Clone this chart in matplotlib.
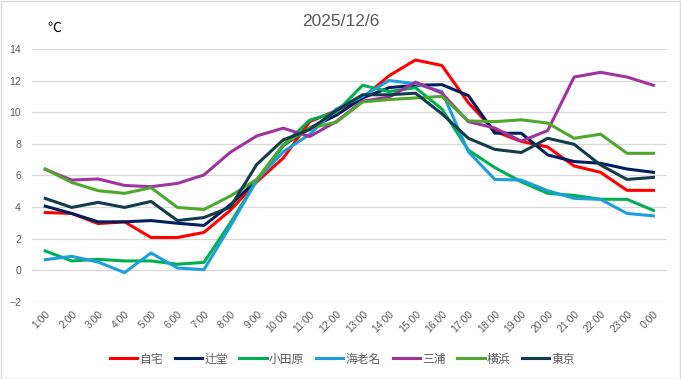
import matplotlib
matplotlib.use('Agg')
import matplotlib.pyplot as plt
import numpy as np

plt.rcParams['font.family'] = ['Liberation Sans', 'Noto Sans CJK JP', 'DejaVu Sans']

hours = ['1:00', '2:00', '3:00', '4:00', '5:00', '6:00', '7:00', '8:00',
         '9:00', '10:00', '11:00', '12:00', '13:00', '14:00', '15:00', '16:00',
         '17:00', '18:00', '19:00', '20:00', '21:00', '22:00', '23:00', '0:00']

jitaku = [3.66, 3.6, 2.96, 3.07, 2.08, 2.08, 2.4, 3.8, 5.6, 7.1, 9.4, 10.1,
          10.9, 12.3, 13.3, 12.95, 10.6, 8.8, 8.15, 7.8, 6.6, 6.2, 5.06, 5.06]
tsujido = [4.06, 3.6, 3.07, 3.07, 3.15, 2.98, 2.84, 4.15, 5.7, 7.9, 9.0, 9.8,
           10.9, 11.55, 11.7, 11.74, 11.05, 8.67, 8.67, 7.3, 6.88, 6.77, 6.41, 6.2]
odawara = [1.23, 0.6, 0.7, 0.6, 0.6, 0.39, 0.51, 3.0, 5.7, 7.9, 9.5, 10.0,
           11.7, 11.3, 11.55, 10.2, 7.6, 6.5, 5.6, 4.87, 4.74, 4.5, 4.49, 3.79]
ebina = [0.68, 0.89, 0.53, -0.14, 1.1, 0.15, 0.05, 2.8, 5.7, 7.5, 8.6, 10.2,
         11.0, 12.0, 11.8, 11.3, 7.5, 5.75, 5.71, 5.04, 4.55, 4.49, 3.6, 3.45]
miura = [6.39, 5.71, 5.78, 5.37, 5.29, 5.5, 6.03, 7.47, 8.5, 8.99, 8.46, 9.4,
         10.7, 10.95, 11.9, 11.2, 9.4, 9.0, 8.17, 8.84, 12.22, 12.52, 12.22, 11.7]
yokohama = [6.41, 5.56, 5.04, 4.87, 5.23, 3.98, 3.85, 4.7, 5.75, 7.95, 9.0, 9.35,
            10.65, 10.8, 10.9, 11.0, 9.45, 9.4, 9.52, 9.31, 8.35, 8.61, 7.4, 7.4]
tokyo = [4.55, 3.98, 4.3, 3.98, 4.36, 3.15, 3.34, 4.0, 6.7, 8.25, 8.9, 10.1,
         11.1, 11.1, 11.2, 9.9, 8.35, 7.65, 7.45, 8.35, 7.97, 6.66, 5.75, 5.88]

series = [
    ('自宅', jitaku, '#FF0000'),
    ('辻堂', tsujido, '#002060'),
    ('小田原', odawara, '#00B050'),
    ('海老名', ebina, '#1E9FDB'),
    ('三浦', miura, '#A0339E'),
    ('横浜', yokohama, '#4EA72E'),
    ('東京', tokyo, '#123B4C'),
]

fig = plt.figure(figsize=(6.81, 3.79), dpi=100)
ax = fig.add_axes([0.047, 0.203, 0.932, 0.668])

x = np.arange(len(hours))
for name, vals, color in series:
    ax.plot(x, vals, color=color, lw=2.2, label=name, solid_joinstyle='round')

ax.set_xlim(-0.5, len(hours) - 0.5)
ax.set_ylim(-2, 14)
ax.set_yticks(np.arange(-2, 15, 2))
ax.set_xticks(x, labels=hours)
ax.grid(axis='y', color='#D9D9D9', lw=0.9)
ax.set_axisbelow(True)
for s in ax.spines.values():
    s.set_visible(False)
ax.tick_params(axis='both', length=0, colors='#595959', labelsize=7.5)
ax.tick_params(axis='y', pad=8)
ax.tick_params(axis='x', pad=5)
plt.setp(ax.get_xticklabels(), rotation=45, ha='right', rotation_mode='anchor')

fig.text(0.5, 1 - 22 / 379, '2025/12/6', ha='center', va='center',
         fontsize=12.5, color='#595959')
fig.text(54 / 681, 1 - 28 / 379, '℃', ha='center', va='center',
         fontsize=10, color='black', family=['Noto Sans CJK JP', 'DejaVu Sans'])

fig.legend(loc='center', bbox_to_anchor=(0.503, 1 - 359 / 379), ncol=7,
           frameon=False, handlelength=2.3, handletextpad=0.2,
           columnspacing=1.0, labelcolor='#595959',
           prop={'family': ['Noto Sans CJK JP', 'DejaVu Sans'], 'size': 8.5})

fig.patches.append(plt.Rectangle((0.001, 0.001), 0.997, 0.997, transform=fig.transFigure,
                                 fill=False, edgecolor='#D9D9D9', lw=1))

fig.savefig('out.png', dpi=100)
